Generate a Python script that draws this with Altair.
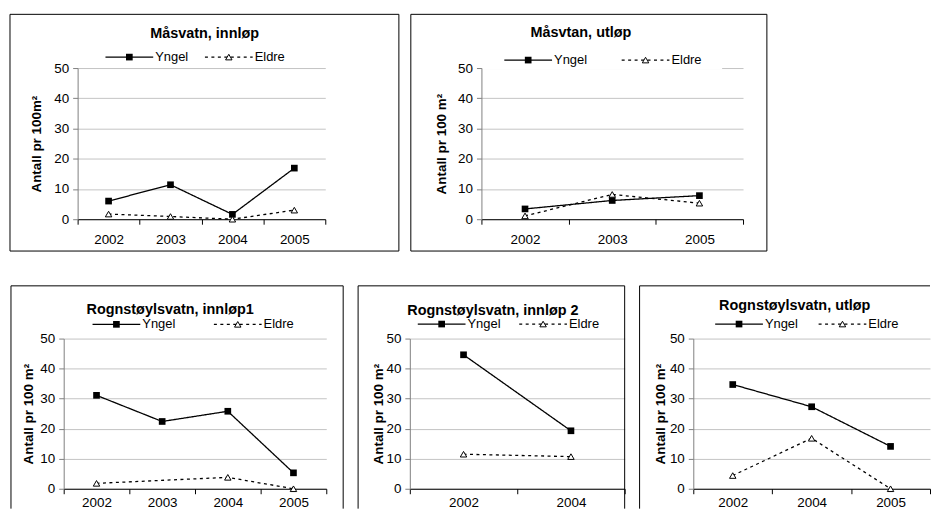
import altair as alt
import pandas as pd

# ---------------- data ----------------
series = ["Yngel", "Eldre"]
y_ticks = [0, 10, 20, 30, 40, 50]

titles = [
    "Måsvatn, innløp",
    "Måsvtan, utløp",
    "Rognstøylsvatn, innløp1",
    "Rognstøylsvatn, innløp 2",
    "Rognstøylsvatn, utløp",
]
y_titles = [
    "Antall pr 100m²",
    "Antall pr 100 m²",
    "Antall pr 100 m²",
    "Antall pr 100 m²",
    "Antall pr 100 m²",
]

years_1 = [2002, 2003, 2004, 2005]
yngel_1 = [6.0, 11.4, 1.6, 16.9]
eldre_1 = [1.7, 0.9, 0.0, 3.0]

years_2 = [2002, 2003, 2005]
yngel_2 = [3.4, 6.2, 7.8]
eldre_2 = [1.1, 8.2, 5.3]

years_3 = [2002, 2003, 2004, 2005]
yngel_3 = [31.1, 22.4, 25.8, 5.3]
eldre_3 = [1.8, None, 3.8, 0.0]

years_4 = [2002, 2004]
yngel_4 = [44.6, 19.3]
eldre_4 = [11.5, 10.7]

years_5 = [2002, 2004, 2005]
yngel_5 = [34.7, 27.3, 14.1]
eldre_5 = [4.4, 16.8, 0.0]

panel_data = [
    (years_1, yngel_1, eldre_1),
    (years_2, yngel_2, eldre_2),
    (years_3, yngel_3, eldre_3),
    (years_4, yngel_4, eldre_4),
    (years_5, yngel_5, eldre_5),
]

# ---------------- layout / style ----------------
FONT = "Liberation Sans"
BLACK = "#000000"
# frame = (x1, x2, y1, y2, sides)  sides: t=top, b=bottom, l=left, r=right
layout = [
    dict(w=249, h=152, frame=(-68, 323, -54, 184, "tblr"), tpos=(127.7, -34.7), ytx=-37,
         lcy=-11, lx=(28, 128), xpad=8, mask=None, xrange=None, yoff=0),
    dict(w=263, h=152, frame=(-71, 287, -54, 184, "tblr"), tpos=(100, -35.3), ytx=-36,
         lcy=-8, lx=(23, 141), xpad=8, mask=(1, 242, -21, 1), xrange=None, yoff=0),
    dict(w=250, h=151, frame=(-67, 267, -53, 171, "tlr"), tpos=(93, -28.7), ytx=-31,
         lcy=-14.3, lx=(15, 137), xpad=2, mask=None, xrange=[-14, 250], yoff=14),
    dict(w=216, h=151, frame=(-52, 216, -53, 171, "tlr"), tpos=(83.5, -28), ytx=-27,
         lcy=-14.6, lx=(8, 110), xpad=2, mask=None, xrange=None, yoff=0),
    dict(w=238, h=151, frame=(-54, 238, -53, 171, "tl"), tpos=(102, -32.3), ytx=-29,
         lcy=-14.6, lx=(22, 126), xpad=2, mask=None, xrange=None, yoff=0),
]
SYM_W = 48
DASH = [3, 3.5]


def one(values):
    return alt.Data(values=values)


def make_panel(i):
    years, yng, eld = panel_data[i]
    L = layout[i]
    n = len(years)
    df = pd.DataFrame({
        "year": years + years,
        "series": [series[0]] * n + [series[1]] * n,
        "value": yng + eld,
    }).dropna()

    xscale = dict(type="band", paddingInner=0, paddingOuter=0)
    if L["xrange"]:
        xscale["range"] = L["xrange"]
    x = alt.X("year:O",
              scale=alt.Scale(**xscale),
              axis=alt.Axis(title=None, labelAngle=0, tickBand="extent", grid=False,
                            domainColor=BLACK, tickColor=BLACK, tickSize=5,
                            labelPadding=L["xpad"], labelFontSize=13.5, labelColor=BLACK,
                            labelFont=FONT))
    yaxis = dict(values=y_ticks, title=y_titles[i], titleFontSize=13.5,
                 titleFontWeight="bold", titleColor=BLACK, titleFont=FONT,
                 titleX=L["ytx"], titleBaseline="alphabetic",
                 grid=True, gridColor="#c4c4c4", domainColor="#808080",
                 tickColor="#808080", tickSize=5, labelPadding=4,
                 labelFontSize=13.5, labelColor=BLACK, labelFont=FONT)
    if L["yoff"]:
        yaxis["offset"] = L["yoff"]
    y = alt.Y("value:Q", scale=alt.Scale(domain=[0, 50], nice=False),
              axis=alt.Axis(**yaxis))

    base = alt.Chart(df)
    layers = []

    # panel frame
    fx1, fx2, fy1, fy2, sides = L["frame"]
    fd = one([{"f": 0}])
    if "t" in sides:
        layers.append(alt.Chart(fd).mark_rule(color=BLACK, strokeWidth=1).encode(
            x=alt.value(fx1), x2=alt.value(fx2), y=alt.value(fy1)))
    if "b" in sides:
        layers.append(alt.Chart(fd).mark_rule(color=BLACK, strokeWidth=1).encode(
            x=alt.value(fx1), x2=alt.value(fx2), y=alt.value(fy2)))
    if "l" in sides:
        layers.append(alt.Chart(fd).mark_rule(color=BLACK, strokeWidth=1).encode(
            x=alt.value(fx1), y=alt.value(fy1), y2=alt.value(fy2)))
    if "r" in sides:
        layers.append(alt.Chart(fd).mark_rule(color=BLACK, strokeWidth=1).encode(
            x=alt.value(fx2), y=alt.value(fy1), y2=alt.value(fy2)))

    if L["mask"]:
        mx1, mx2, my1, my2 = L["mask"]
        layers.append(alt.Chart(fd).mark_rect(fill="white").encode(
            x=alt.value(mx1), x2=alt.value(mx2), y=alt.value(my1), y2=alt.value(my2)))

    layers.append(base.mark_line(color=BLACK, strokeWidth=1.3).encode(
        x=x, y=y,
        strokeDash=alt.StrokeDash("series:N",
                                  scale=alt.Scale(domain=series, range=[[1, 0], DASH]),
                                  legend=None),
    ))
    layers.append(base.transform_filter(alt.datum.series == series[0]).mark_square(
        size=45, color=BLACK, opacity=1
    ).encode(x=x, y=y))
    layers.append(base.transform_filter(alt.datum.series == series[1]).mark_point(
        shape="triangle-up", size=42, filled=True, fill="white", stroke=BLACK,
        strokeWidth=1, opacity=1
    ).encode(x=x, y=y))

    # legend (line + marker + label for each series)
    cy = L["lcy"]
    for k, s in enumerate(series):
        x0 = L["lx"][k]
        d = one([{"s": s}])
        rule_kw = dict(color=BLACK, strokeWidth=1.3)
        if k == 1:
            rule_kw["strokeDash"] = DASH
        layers.append(alt.Chart(d).mark_rule(**rule_kw).encode(
            x=alt.value(x0), x2=alt.value(x0 + SYM_W), y=alt.value(cy)))
        if k == 0:
            layers.append(alt.Chart(d).mark_square(size=45, color=BLACK, opacity=1).encode(
                x=alt.value(x0 + SYM_W / 2), y=alt.value(cy)))
        else:
            layers.append(alt.Chart(d).mark_point(
                shape="triangle-up", size=42, filled=True, fill="white", stroke=BLACK,
                strokeWidth=1, opacity=1).encode(x=alt.value(x0 + SYM_W / 2), y=alt.value(cy)))
        layers.append(alt.Chart(d).mark_text(
            font=FONT, fontSize=13, align="left", baseline="middle", color=BLACK
        ).encode(text="s:N", x=alt.value(x0 + SYM_W + 2), y=alt.value(cy)))

    tx, ty = L["tpos"]
    layers.append(alt.Chart(one([{"t": titles[i]}])).mark_text(
        font=FONT, fontSize=14.5, fontWeight="bold", align="center", baseline="middle",
        color=BLACK
    ).encode(text="t:N", x=alt.value(tx), y=alt.value(ty)))

    return alt.layer(*layers).properties(width=L["w"], height=L["h"])


top = alt.hconcat(make_panel(0), make_panel(1), spacing=10)
bottom = alt.hconcat(make_panel(2), make_panel(3), make_panel(4), spacing=13)

chart = alt.vconcat(top, bottom, spacing=33).properties(
    padding={"left": 1, "top": 4, "right": 0, "bottom": 0}
).configure(font=FONT).configure_view(strokeWidth=0)

chart.save("out.html", embed_options={"renderer": "svg", "actions": False})
